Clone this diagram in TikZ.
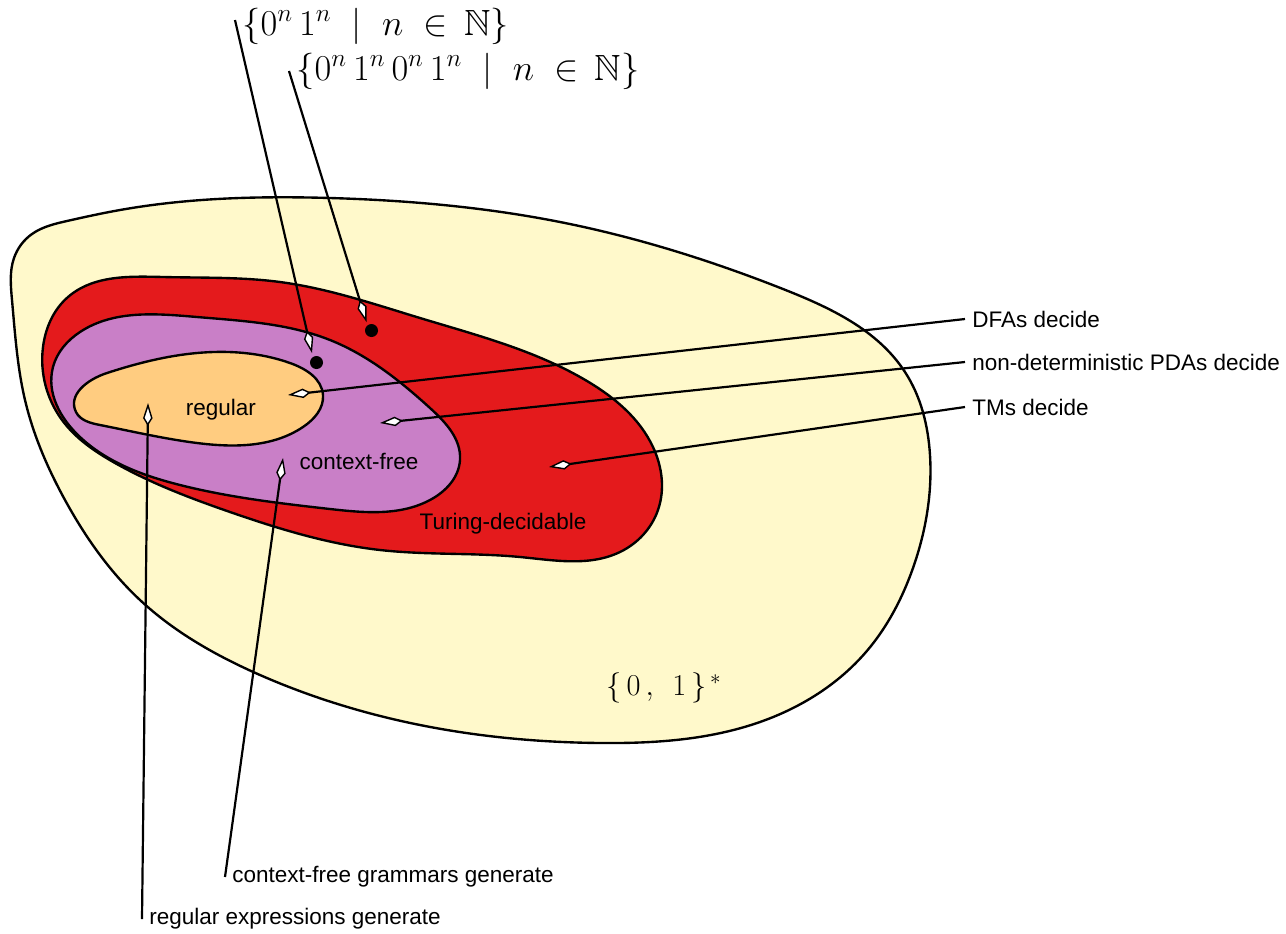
\documentclass[tikz,border=0pt]{standalone}
\usepackage{amssymb}
\usepackage{fontspec}
\newfontfamily\labfont{Liberation Sans}
\usetikzlibrary{arrows.meta,hobby}
\definecolor{outerY}{HTML}{FFF9CB}
\definecolor{tdRed}{HTML}{E41A1C}
\definecolor{cfPur}{HTML}{C97FC7}
\definecolor{regOr}{HTML}{FFCC80}
\tikzset{
  region/.style={draw=black, line width=1.35pt, line join=round, use Hobby shortcut, closed=true},
  lab/.style={font=\labfont\fontsize{12.8}{15}\selectfont, inner sep=4pt},
  mlab/.style={inner sep=4pt},
  pointer/.style={line width=1.25pt, -{Kite[length=13pt, width=5.4pt, inset=4.4pt, fill=white, line width=0.8pt]}},
  dot/.style={circle, fill=black, inner sep=0pt, minimum size=7.4pt},
}
\begin{document}
\begin{tikzpicture}[x=0.02cm, y=-0.02cm]
\useasboundingbox (0,0) rectangle (1286,934);
% outer universe
\draw[region, fill=outerY] (12,300) .. (14,258) .. (32,234) .. (67,221) .. (120,210) .. (330,198)
 .. (560,222) .. (783,289) .. (905,372) .. (930,455) .. (913,568) .. (866,652)
 .. (760,722) .. (600,743) .. (420,725) .. (260,675) .. (140,600) .. (65,500) .. (25,400);
% Turing-decidable
\draw[region, fill=tdRed] (43,347) .. (68,297) .. (163,277) .. (280,282) .. (420,318)
 .. (587,381) .. (653,447) .. (658,510) .. (620,552) .. (520,557) .. (380,550)
 .. (230,512) .. (115,463) .. (62,420);
% context-free
\draw[region, fill=cfPur] (53,367) .. (80,332) .. (197,317) .. (330,340) .. (430,408)
 .. (460,460) .. (430,500) .. (330,509) .. (180,485) .. (80,437);
% regular
\draw[region, fill=regOr] (76,412) .. (107,373) .. (197,353) .. (290,363) .. (323,395)
 .. (303,427) .. (197,443) .. (100,425);

\node[lab] (reg) at (221,410) {regular};
\node[lab] (cf) at (359,461) {context-free};
\node[lab] (td) at (503,524) {Turing-decidable};
\node[mlab] (all) at (664,688) {\fontsize{17.28}{20}\selectfont$\{\,0\,,\;\,1\,\}^{\,*}$};

\node[mlab, anchor=west] (l1) at (235,26) {\fontsize{20.74}{24}\selectfont$\{0^{n}\,1^{n}\;\mid\; n\;\in\,\mathbb{N}\}$};
\node[mlab, anchor=west] (l2) at (289,71) {\fontsize{20.74}{24}\selectfont$\{0^{n}\,1^{n}\,0^{n}\,1^{n}\;\mid\; n\;\in\,\mathbb{N}\}$};
\node[lab, anchor=west] (dfa) at (965,319) {DFAs decide};
\node[lab, anchor=west] (pda) at (965,362) {non-deterministic PDAs decide};
\node[lab, anchor=west] (tm) at (965,407) {TMs decide};
\node[lab, anchor=west] (cfg) at (225,877) {context-free grammars generate};
\node[lab, anchor=west] (re) at (142,919) {regular expressions generate};

\coordinate (t1) at (312,353);
\coordinate (t2) at (366.5,322);
\coordinate (tdfa) at (288,395);
\coordinate (tpda) at (380,423);
\coordinate (ttm) at (549,467);
\coordinate (tcfg) at (283,458);
\coordinate (tre) at (148,403);

\draw[pointer] (l1.west) ++(0,-6) -- (t1);
\draw[pointer] (l2.west) -- (t2);
\draw[pointer] (dfa.west) -- (tdfa);
\draw[pointer] (pda.west) -- (tpda);
\draw[pointer] (tm.west) -- (ttm);
\draw[pointer] (cfg.west) -- (tcfg);
\draw[pointer] (re.west) -- (tre);

\node[dot] (d1) at (316.5,362.5) {};
\node[dot] (d2) at (371.5,330.5) {};
\end{tikzpicture}
\end{document}
